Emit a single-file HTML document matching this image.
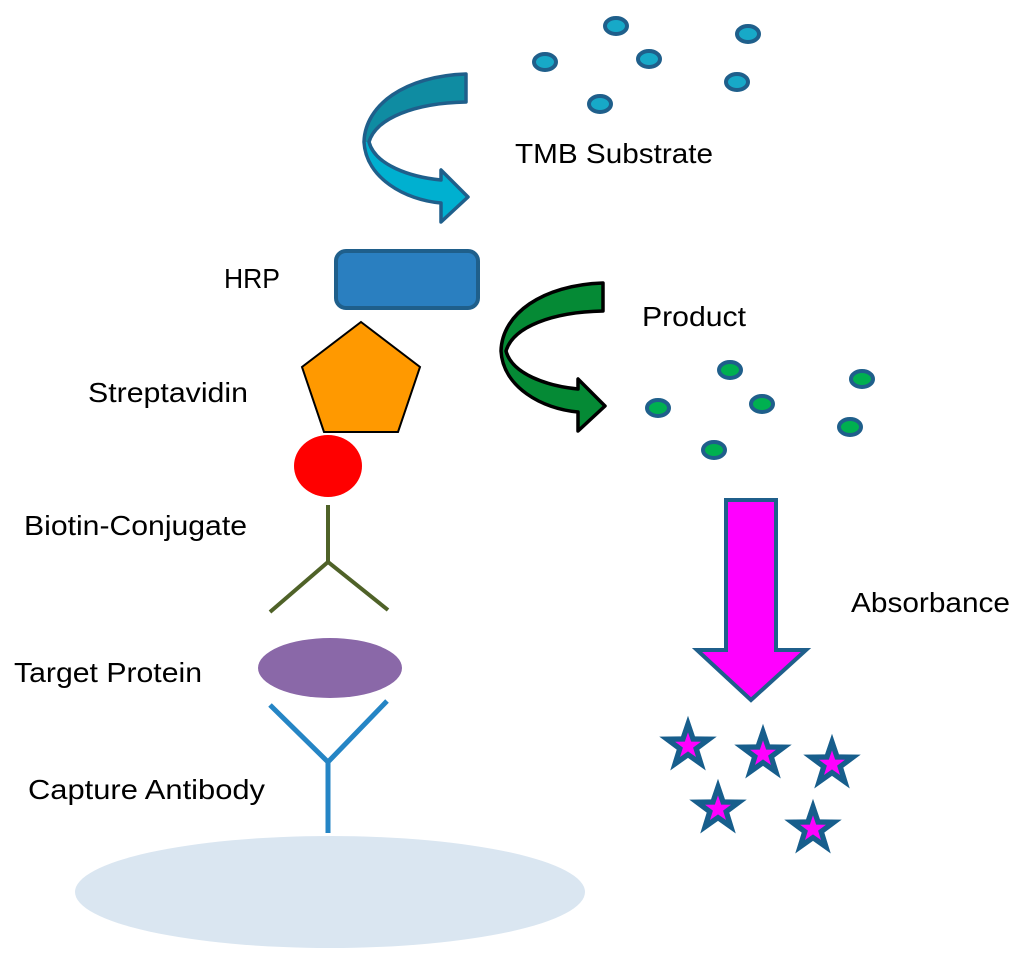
<!DOCTYPE html>
<html><head><style>html,body{margin:0;padding:0;background:#fff}svg{display:block}</style></head>
<body>
<svg width="1024" height="963" viewBox="0 0 1024 963" xmlns="http://www.w3.org/2000/svg">
<defs>
<linearGradient id="g1" x1="0" y1="74" x2="0" y2="222" gradientUnits="userSpaceOnUse">
<stop offset="0.46" stop-color="#0F8CA2"/><stop offset="0.46" stop-color="#00B0D0"/></linearGradient>
<linearGradient id="g2" x1="0" y1="283" x2="0" y2="431" gradientUnits="userSpaceOnUse">
<stop offset="0.46" stop-color="#058A35"/><stop offset="0.46" stop-color="#00B050"/></linearGradient>
<polygon id="st" points="0,-28 6.47,-8.9 26.6,-8.65 10.46,3.4 16.46,22.65 0,11 -16.46,22.65 -10.46,3.4 -26.6,-8.65 -6.47,-8.9"/>
</defs>
<path d="M466,74 C405,76 365,105 364,142 C366,178 405,200 441,203 L441,222 L468,197 L441,170 L441,180 C410,177 375,165 369,142 C376,118 415,103 466,102 Z" fill="url(#g1)" stroke="#1F5F8B" stroke-width="3.5" stroke-linejoin="round"/>
<path transform="translate(137,209)" d="M466,74 C405,76 365,105 364,142 C366,178 405,200 441,203 L441,222 L468,197 L441,170 L441,180 C410,177 375,165 369,142 C376,118 415,103 466,102 Z" fill="url(#g2)" stroke="#000" stroke-width="3.5" stroke-linejoin="round"/>
<g fill="#17A9C8" stroke="#1F5F8B" stroke-width="4">
<ellipse cx="616" cy="26" rx="11" ry="8"/><ellipse cx="748" cy="34" rx="11" ry="8"/><ellipse cx="545" cy="62" rx="11" ry="8"/><ellipse cx="649" cy="59" rx="11" ry="8"/><ellipse cx="737" cy="82" rx="11" ry="8"/><ellipse cx="600" cy="104" rx="11" ry="8"/>
</g>
<g fill="#00B050" stroke="#1F5F8B" stroke-width="4">
<ellipse cx="730" cy="370" rx="11" ry="8"/><ellipse cx="862" cy="379" rx="11" ry="8"/><ellipse cx="658" cy="408" rx="11" ry="8"/><ellipse cx="762" cy="404" rx="11" ry="8"/><ellipse cx="850" cy="427" rx="11" ry="8"/><ellipse cx="714" cy="450" rx="11" ry="8"/>
</g>
<rect x="336" y="251" width="142" height="57" rx="10" fill="#2A7FC0" stroke="#1F5F8B" stroke-width="4"/>
<polygon points="361,322 420,367 398,432 324,432 302,367" fill="#FF9900" stroke="#000" stroke-width="2"/>
<ellipse cx="328" cy="466" rx="34" ry="31" fill="#FF0000"/>
<g stroke="#4F6228" stroke-width="4" fill="none"><line x1="328" y1="505" x2="328" y2="562"/><polyline points="270,612 328,562 388,610"/></g>
<ellipse cx="330" cy="668" rx="72" ry="30" fill="#8A68A8"/>
<g stroke="#2585C5" stroke-width="5" fill="none"><polyline points="270,705 328,762 387,701"/><line x1="328" y1="762" x2="328" y2="833"/></g>
<ellipse cx="330" cy="892" rx="255" ry="56" fill="#DAE6F1"/>
<polygon points="726,500 776,500 776,650 806,650 751,700 697,650 726,650" fill="#FF00FF" stroke="#1F5F8B" stroke-width="4" stroke-linejoin="miter"/>
<g>
<g transform="translate(688,746) scale(1.08)"><use href="#st" fill="#175E8C"/><use href="#st" fill="#FF00FF" transform="scale(0.45)"/></g>
<g transform="translate(763,754) scale(1.08)"><use href="#st" fill="#175E8C"/><use href="#st" fill="#FF00FF" transform="scale(0.45)"/></g>
<g transform="translate(832,764) scale(1.08)"><use href="#st" fill="#175E8C"/><use href="#st" fill="#FF00FF" transform="scale(0.45)"/></g>
<g transform="translate(718,809) scale(1.08)"><use href="#st" fill="#175E8C"/><use href="#st" fill="#FF00FF" transform="scale(0.45)"/></g>
<g transform="translate(813,829) scale(1.08)"><use href="#st" fill="#175E8C"/><use href="#st" fill="#FF00FF" transform="scale(0.45)"/></g>
</g>
<g font-family="Liberation Sans, sans-serif" font-size="28" fill="#000">
<text x="515" y="163" textLength="198" lengthAdjust="spacingAndGlyphs">TMB Substrate</text>
<text x="224" y="288" textLength="56" lengthAdjust="spacingAndGlyphs">HRP</text>
<text x="642" y="326" textLength="104" lengthAdjust="spacingAndGlyphs">Product</text>
<text x="88" y="402" textLength="160" lengthAdjust="spacingAndGlyphs">Streptavidin</text>
<text x="24" y="535" textLength="223" lengthAdjust="spacingAndGlyphs">Biotin-Conjugate</text>
<text x="14" y="682" textLength="188" lengthAdjust="spacingAndGlyphs">Target Protein</text>
<text x="28" y="799" textLength="237" lengthAdjust="spacingAndGlyphs">Capture Antibody</text>
<text x="851" y="612" textLength="159" lengthAdjust="spacingAndGlyphs">Absorbance</text>
</g>
</svg>
</body></html>
